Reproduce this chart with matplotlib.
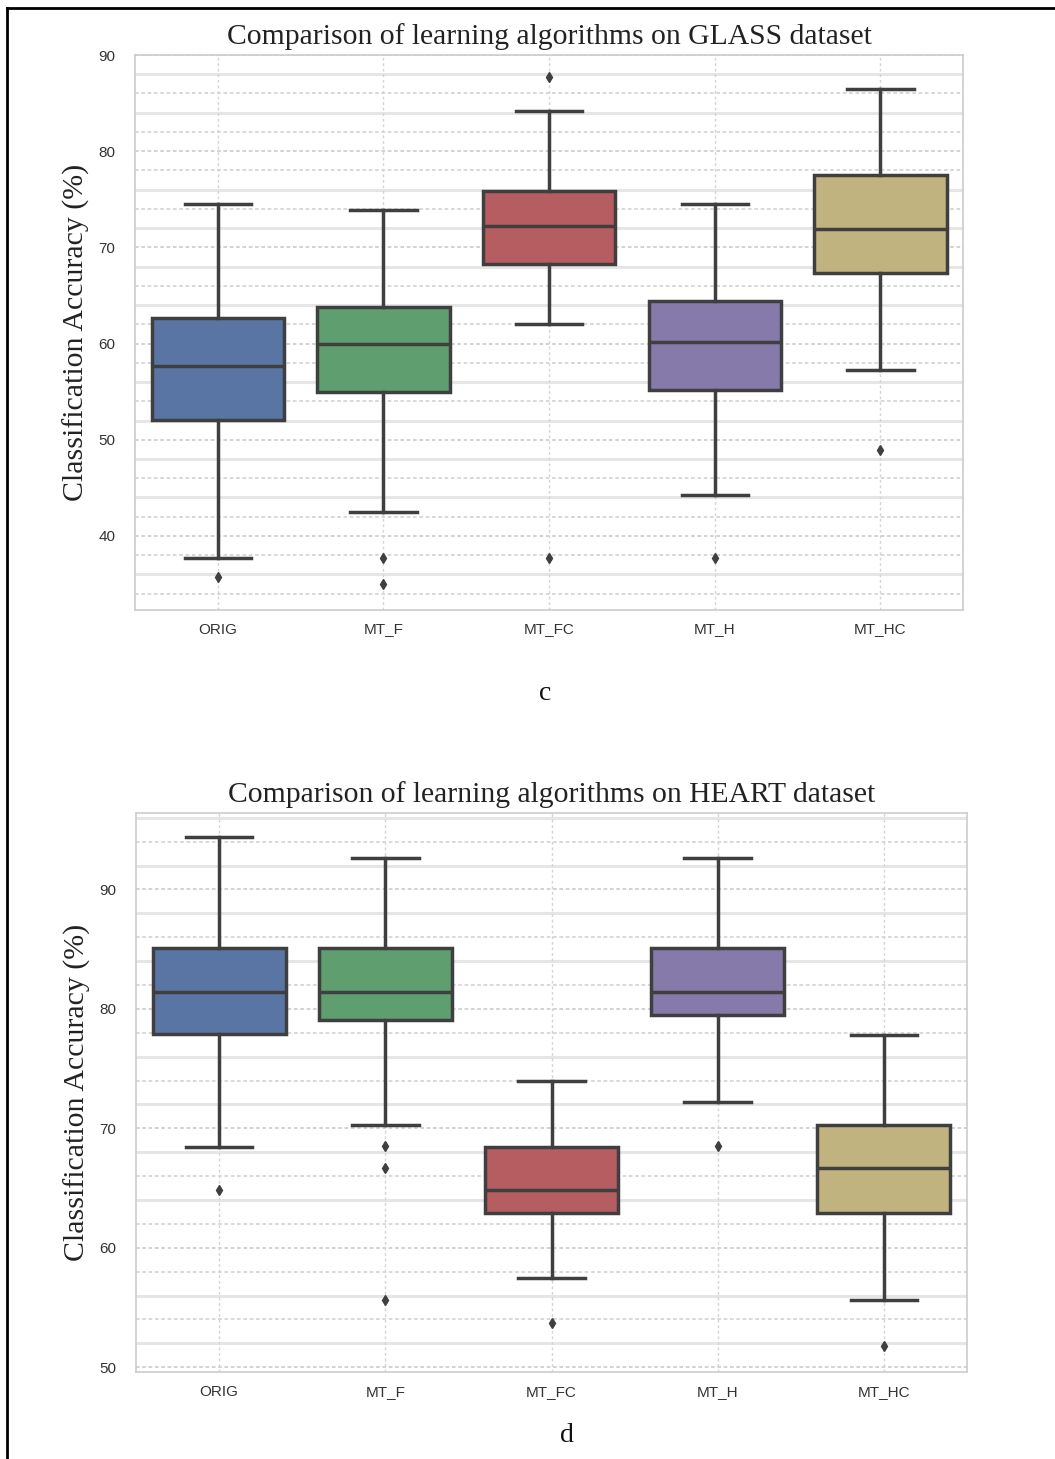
import colorsys
import matplotlib
matplotlib.use("Agg")
import matplotlib.pyplot as plt
from matplotlib.lines import Line2D
import numpy as np

categories = ["ORIG", "MT_F", "MT_FC", "MT_H", "MT_HC"]

# GLASS dataset: whisker low, Q1, median, Q3, whisker high, outliers
glass_whislo = [37.7, 42.5, 62.0, 44.3, 57.3]
glass_q1 = [52.1, 55.0, 68.3, 55.2, 67.3]
glass_med = [57.7, 60.0, 72.2, 60.2, 71.9]
glass_q3 = [62.7, 63.8, 75.9, 64.4, 77.5]
glass_whishi = [74.5, 73.9, 84.2, 74.5, 86.5]
glass_fliers = [[35.7], [37.7, 35.0], [87.7, 37.7], [37.7], [48.9]]

# HEART dataset
heart_whislo = [68.4, 70.3, 57.5, 72.2, 55.6]
heart_q1 = [77.9, 79.1, 62.9, 79.5, 62.9]
heart_med = [81.4, 81.4, 64.8, 81.4, 66.7]
heart_q3 = [85.1, 85.1, 68.4, 85.1, 70.3]
heart_whishi = [94.4, 92.6, 74.0, 92.6, 77.8]
heart_fliers = [[64.8], [68.5, 66.7, 55.6], [53.7], [68.5], [51.8]]

base_colors = ["#4C72B0", "#55A868", "#C44E52", "#8172B2", "#CCB974"]


def desaturate(hexcol, prop=0.75):
    rgb = matplotlib.colors.to_rgb(hexcol)
    h, l, s = colorsys.rgb_to_hls(*rgb)
    return colorsys.hls_to_rgb(h, l, s * prop)


colors = [desaturate(c) for c in base_colors]
line_col = "#3f3f3f"

W, H = 1055, 1459
fig = plt.figure(figsize=(W / 100, H / 100), dpi=100)
fig.patch.set_facecolor("white")

serif = ["Liberation Serif", "DejaVu Serif"]
sans = ["Liberation Sans", "DejaVu Sans"]


def make_panel(rect, whislo, q1, med, q3, whishi, fliers, ylim, yticks, title):
    ax = fig.add_axes(rect)
    stats = []
    for i in range(len(categories)):
        stats.append(dict(label=categories[i], whislo=whislo[i], q1=q1[i], med=med[i],
                          q3=q3[i], whishi=whishi[i], fliers=fliers[i]))
    pos = np.arange(len(categories))
    bp = ax.bxp(stats, positions=pos, widths=0.8, patch_artist=True, showfliers=True,
                boxprops=dict(edgecolor=line_col, linewidth=2.5),
                medianprops=dict(color=line_col, linewidth=2.5),
                whiskerprops=dict(color=line_col, linewidth=2.5),
                capprops=dict(color=line_col, linewidth=2.5),
                flierprops=dict(marker="d", markerfacecolor=line_col, markeredgecolor=line_col,
                                markersize=5.5, linestyle="none"),
                capwidths=0.4, zorder=3)
    for patch, c in zip(bp["boxes"], colors):
        patch.set_facecolor(c)
    ax.set_xlim(-0.5, len(categories) - 0.5)
    ax.set_ylim(*ylim)
    ax.set_yticks(yticks)
    ax.set_xticks(pos)
    ax.set_xticklabels(categories)
    # grid lines every 2 units
    lo = int(np.ceil(ylim[0] / 2.0) * 2)
    for v in range(lo, int(ylim[1]) + 1, 2):
        if v % 10 == 0:
            ax.axhline(v, color="#cfcfcf", lw=1.3, ls=(0, (2, 1.5)), zorder=0)
        elif v % 4 == 0:
            ax.axhline(v, color="#e6e6e6", lw=2.2, ls="-", zorder=0)
        else:
            ax.axhline(v, color="#d6d6d6", lw=1.3, ls=(0, (2, 1.5)), zorder=0)
    for p in pos:
        ax.axvline(p, color="#d4d4d4", lw=1.0, ls=(0, (2, 2)), zorder=0)
    for s in ax.spines.values():
        s.set_color("#cccccc")
        s.set_linewidth(1.2)
    ax.tick_params(axis="x", length=0, pad=9, labelsize=11, labelcolor="#333333")
    ax.tick_params(axis="y", length=0, pad=14, labelsize=11, labelcolor="#333333")
    for lab in ax.get_xticklabels() + ax.get_yticklabels():
        lab.set_family(sans)
    ax.set_title(title, family=serif, fontsize=21.3, color="#222222", pad=8)
    ax.set_ylabel("Classification Accuracy (%)", family=serif, fontsize=21.5, color="#222222",
                  labelpad=6)
    return ax


ax1 = make_panel([0.128, 0.5819, 0.785, 0.3804], glass_whislo, glass_q1, glass_med, glass_q3,
                 glass_whishi, glass_fliers, (32.3, 90), [40, 50, 60, 70, 80, 90],
                 "Comparison of learning algorithms on GLASS dataset")
ax2 = make_panel([0.1289, 0.0596, 0.7877, 0.3832], heart_whislo, heart_q1, heart_med, heart_q3,
                 heart_whishi, heart_fliers, (49.6, 96.4), [50, 60, 70, 80, 90],
                 "Comparison of learning algorithms on HEART dataset")

fig.text(545 / W, 1 - 693 / H, "c", family=serif, fontsize=20, ha="center", va="center",
         color="#111111")
fig.text(567 / W, 1 - 1435 / H, "d", family=serif, fontsize=20, ha="center", va="center",
         color="#111111")

# frame lines (top and left)
fig.add_artist(Line2D([7 / W, 1.0], [1 - 8 / H, 1 - 8 / H], transform=fig.transFigure,
                      color="black", lw=2))
fig.add_artist(Line2D([7 / W, 7 / W], [0, 1 - 8 / H], transform=fig.transFigure,
                      color="black", lw=2))

fig.savefig("out.png", dpi=100)
